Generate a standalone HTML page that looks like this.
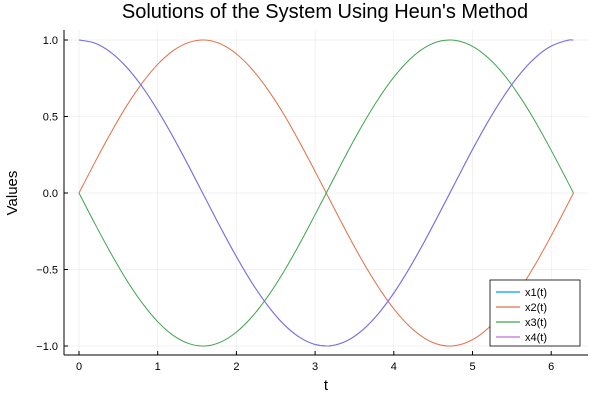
<!DOCTYPE html>
<html><head><meta charset="utf-8"><style>body{margin:0;background:#fff}svg{display:block;font-family:"Liberation Sans",sans-serif}</style></head>
<body>
<svg id="chart" width="600" height="400"></svg>
<script>
const tVals=[0,0.2,0.4,0.6,0.8,1.0,1.2,1.4,1.6,1.8,2.0,2.2,2.4,2.6,2.8,3.0,3.2,3.4,3.6,3.8,4.0,4.2,4.4,4.6,4.8,5.0,5.2,5.4,5.6,5.8,6.0,6.2,6.283];
const x1Vals=[1,0.980,0.921,0.825,0.697,0.540,0.362,0.170,-0.029,-0.227,-0.416,-0.589,-0.737,-0.857,-0.942,-0.990,-0.998,-0.967,-0.897,-0.791,-0.654,-0.490,-0.307,-0.112,0.087,0.284,0.469,0.635,0.776,0.886,0.960,0.997,1];
const x2Vals=[0,0.199,0.389,0.565,0.717,0.841,0.932,0.985,1.000,0.974,0.909,0.808,0.675,0.516,0.335,0.141,-0.058,-0.256,-0.443,-0.612,-0.757,-0.872,-0.952,-0.994,-0.996,-0.959,-0.883,-0.773,-0.631,-0.465,-0.279,-0.083,0];
const x3Vals=[0,-0.199,-0.389,-0.565,-0.717,-0.841,-0.932,-0.985,-1.000,-0.974,-0.909,-0.808,-0.675,-0.516,-0.335,-0.141,0.058,0.256,0.443,0.612,0.757,0.872,0.952,0.994,0.996,0.959,0.883,0.773,0.631,0.465,0.279,0.083,0];
const x4Vals=[1,0.980,0.921,0.825,0.697,0.540,0.362,0.170,-0.029,-0.227,-0.416,-0.589,-0.737,-0.857,-0.942,-0.990,-0.998,-0.967,-0.897,-0.791,-0.654,-0.490,-0.307,-0.112,0.087,0.284,0.469,0.635,0.776,0.886,0.960,0.997,1];
const xTicks=[0,1,2,3,4,5,6];
const yTicks=[1.0,0.5,0.0,-0.5,-1.0];
const yTickLabels=["1.0","0.5","0.0","−0.5","−1.0"];
const seriesNames=["x1(t)","x2(t)","x3(t)","x4(t)"];
const seriesColors=["#009af9","#e26f46","#3ea44e","#c271d2"];
const lineColors=["#009af9","#e26f46","#3ea44e","#8a6adf"];

const NS="http://www.w3.org/2000/svg";
const svg=document.getElementById('chart');
const L=64,R=588,T=30,B=355;
const sx=v=>79+v*78.7;
const sy=v=>193-v*153;
function mk(tag,attrs,parent){const e=document.createElementNS(NS,tag);for(const k in attrs)e.setAttribute(k,attrs[k]);(parent||svg).appendChild(e);return e;}
function smoothPath(pts){
  let d='M'+pts[0][0]+','+pts[0][1];
  for(let i=0;i<pts.length-1;i++){
    const p0=pts[Math.max(i-1,0)],p1=pts[i],p2=pts[i+1],p3=pts[Math.min(i+2,pts.length-1)];
    const c1=[p1[0]+(p2[0]-p0[0])/6,p1[1]+(p2[1]-p0[1])/6];
    const c2=[p2[0]-(p3[0]-p1[0])/6,p2[1]-(p3[1]-p1[1])/6];
    d+=' C'+c1[0]+','+c1[1]+' '+c2[0]+','+c2[1]+' '+p2[0]+','+p2[1];
  }
  return d;
}

let t=mk('text',{x:325,y:18,'text-anchor':'middle','font-size':20,fill:'#000'});


t.textContent="Solutions of the System Using Heun's Method";

xTicks.forEach(v=>{
  const g=mk('line',{x1:sx(v),x2:sx(v),y1:T,y2:B,stroke:'#000','stroke-opacity':0.1,'stroke-width':0.5});
  
  
  const tk=mk('line',{x1:sx(v),x2:sx(v),y1:B,y2:B-4,stroke:'#000'});
  
  
  const lb=mk('text',{x:sx(v),y:B+15,'text-anchor':'middle','font-size':11});
  
  
  lb.textContent=v;
});
yTicks.forEach((v,i)=>{
  const g=mk('line',{x1:L,x2:R,y1:sy(v),y2:sy(v),stroke:'#000','stroke-opacity':0.1,'stroke-width':0.5});
  
  
  const tk=mk('line',{x1:L,x2:L+4,y1:sy(v),y2:sy(v),stroke:'#000'});
  
  
  const lb=mk('text',{x:L-6,y:sy(v)+4,'text-anchor':'end','font-size':11});
  
  
  lb.textContent=yTickLabels[i];
});
let ax=mk('line',{x1:L,x2:R,y1:B,y2:B,stroke:'#000'});


let ay=mk('line',{x1:L,x2:L,y1:T,y2:B,stroke:'#000'});



let xl=mk('text',{x:326,y:390,'text-anchor':'middle','font-size':15});


xl.textContent="t";
let yl=mk('text',{x:17,y:193,'text-anchor':'middle','font-size':15,transform:'rotate(-90 17 193)'});


yl.textContent="Values";

[x1Vals,x2Vals,x3Vals,x4Vals].forEach((vals,i)=>{
  const pts=vals.map((v,j)=>[sx(tVals[j]),sy(v)]);
  const p=mk('path',{d:smoothPath(pts),fill:'none',stroke:lineColors[i],'stroke-width':1});
  
  
});

const lg=mk('g',{});


mk('rect',{x:490,y:280,width:90,height:66,fill:'#fff',stroke:'#000','stroke-width':0.8},lg);
seriesNames.forEach((n,i)=>{
  const y=292+i*15;
  const ln=mk('line',{x1:496,x2:520,y1:y,y2:y,stroke:seriesColors[i],'stroke-width':1.2},lg);
  
  
  const tx=mk('text',{x:525,y:y+4,'font-size':11},lg);
  
  
  tx.textContent=n;
});
</script>
</body></html>
